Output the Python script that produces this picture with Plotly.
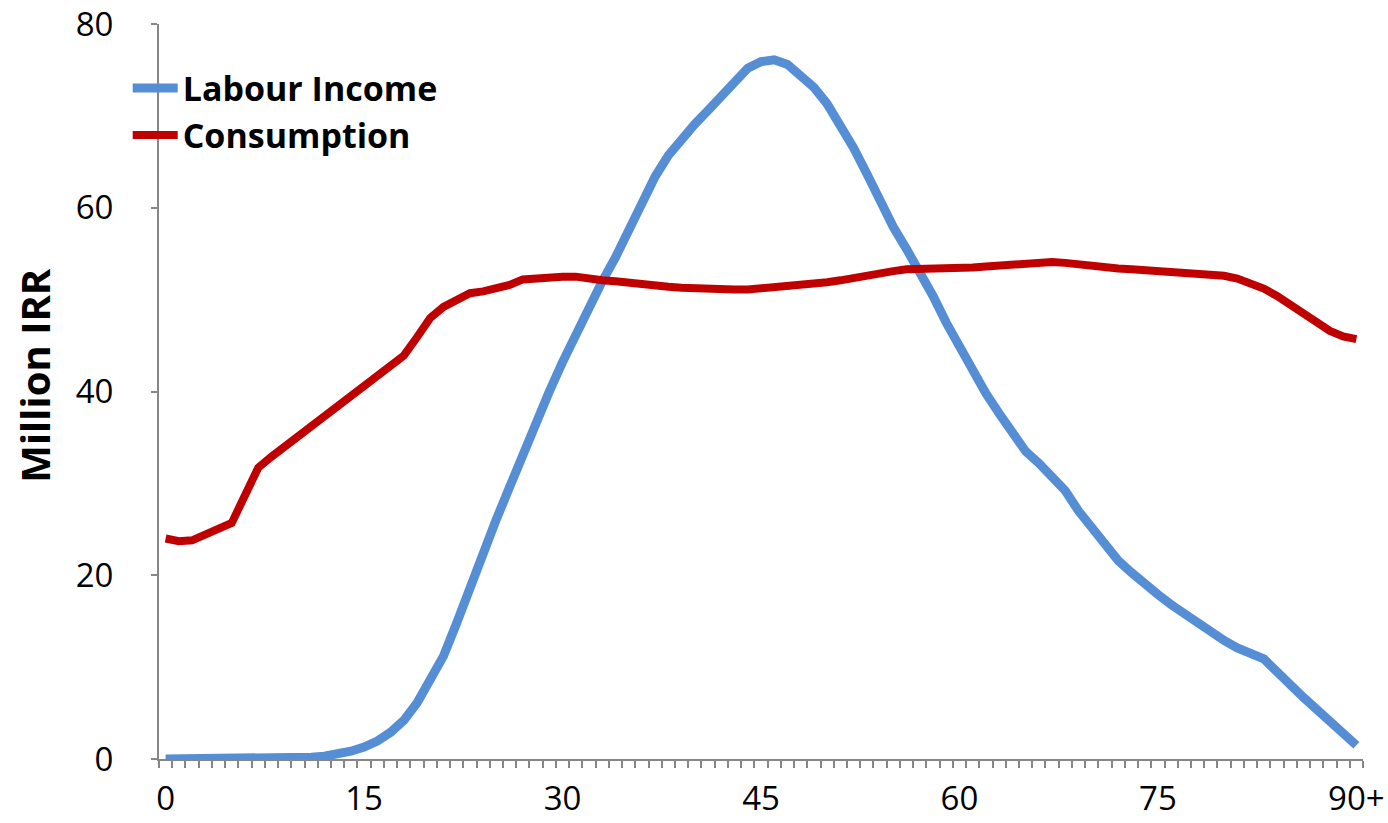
import plotly.graph_objects as go

ages = list(range(0, 91))

labour_income = [
    0.0, 0.0, 0.0, 0.0, 0.0, 0.0, 0.0, 0.0, 0.0, 0.05,
    0.1, 0.2, 0.3, 0.5, 0.85, 1.3, 1.95, 2.9, 4.2, 6.1,
    8.5, 11.2, 14.8, 18.8, 22.8, 26.1, 29.6, 33.2, 36.6, 40.0,
    43.2, 46.2, 49.2, 52.0, 54.6, 57.6, 60.7, 63.4, 65.7, 67.5,
    69.1, 70.6, 72.2, 73.8, 75.2, 75.9, 76.1, 75.6, 74.5, 73.1,
    71.3, 69.1, 66.5, 63.7, 60.7, 57.9, 55.5, 53.0, 50.4, 47.5,
    44.8, 42.3, 39.8, 37.6, 35.4, 33.5, 32.2, 30.8, 29.2, 27.0,
    25.1, 23.4, 21.6, 20.3, 19.0, 17.9, 16.8, 15.8, 14.8, 13.7,
    12.9, 12.1, 11.4, 10.9, 9.5, 8.0, 6.7, 5.4, 4.1, 2.8,
    1.5,
]

consumption = [
    24.0, 23.7, 23.8, 24.4, 25.0, 25.7, 28.7, 31.7, 32.9, 34.0,
    35.1, 36.1, 37.4, 38.3, 39.4, 40.5, 41.6, 42.8, 43.9, 45.9,
    48.0, 49.2, 50.0, 50.7, 50.9, 51.2, 51.6, 52.2, 52.3, 52.6,
    52.5, 52.5, 52.2, 52.1, 52.0, 51.8, 51.7, 51.6, 51.4, 51.3,
    51.2, 51.2, 51.1, 51.1, 51.1, 51.2, 51.3, 51.4, 51.5, 51.7,
    51.9, 52.1, 52.4, 52.7, 52.9, 53.1, 53.3, 53.3, 53.4, 53.4,
    53.5, 53.5, 53.6, 53.7, 53.9, 54.1, 54.2, 54.1, 54.0, 53.8,
    53.6, 53.5, 53.4, 53.3, 53.2, 53.1, 53.0, 52.9, 52.9, 52.8,
    52.6, 52.3, 51.8, 51.2, 50.4, 49.5, 48.5, 47.5, 46.6, 46.0,
    45.7,
]

x_tickvals = [0, 15, 30, 45, 60, 75, 90]
x_ticktext = ['0', '15', '30', '45', '60', '75', '90+']

axis_col = '#868686'
font_family = 'Open Sans'

fig = go.Figure()
fig.add_trace(go.Scatter(x=ages, y=labour_income, mode='lines', name='Labour Income',
                         line=dict(color='#558ED5', width=9)))
fig.add_trace(go.Scatter(x=ages, y=consumption, mode='lines', name='Consumption',
                         line=dict(color='#C00000', width=8)))

fig.update_layout(
    width=1388, height=823,
    margin=dict(l=159.4, r=25.4, t=24, b=64, autoexpand=False),
    plot_bgcolor='white', paper_bgcolor='white',
    font=dict(family=font_family, size=33, color='black'),
    showlegend=True,
    legend=dict(x=-0.026, y=0.952, xanchor='left', yanchor='top',
                bgcolor='rgba(0,0,0,0)', itemwidth=45,
                font=dict(family=font_family, size=34, color='black', weight='bold')),
)

fig.update_xaxes(
    range=[-0.5, 90.5], showgrid=False, zeroline=False, automargin=False,
    showline=True, linecolor=axis_col, linewidth=2,
    tickmode='array', tickvals=x_tickvals, ticktext=x_ticktext,
    ticks='', ticklabelstandoff=9, ticklabeloverflow='allow',
    minor=dict(tickmode='linear', tick0=-0.5, dtick=1, ticks='outside',
               ticklen=7, tickwidth=2, tickcolor=axis_col, showgrid=False),
)

fig.update_yaxes(
    range=[0, 80], dtick=20, showgrid=False, zeroline=False, automargin=False,
    showline=True, linecolor=axis_col, linewidth=2,
    ticks='outside', ticklen=6, tickwidth=2, tickcolor=axis_col,
    ticklabelstandoff=31, ticklabeloverflow='allow',
)

fig.add_annotation(
    text='Million IRR', xref='paper', yref='paper', x=-0.1034, y=0.522,
    xanchor='center', yanchor='middle', textangle=-90, showarrow=False,
    font=dict(family=font_family, size=40, color='black', weight='bold'),
)

# drop the default body margin so the figure fills the window exactly; no modebar
fig.write_html('out.html', config={'displayModeBar': False},
               post_script="document.body.style.margin='0px';")
